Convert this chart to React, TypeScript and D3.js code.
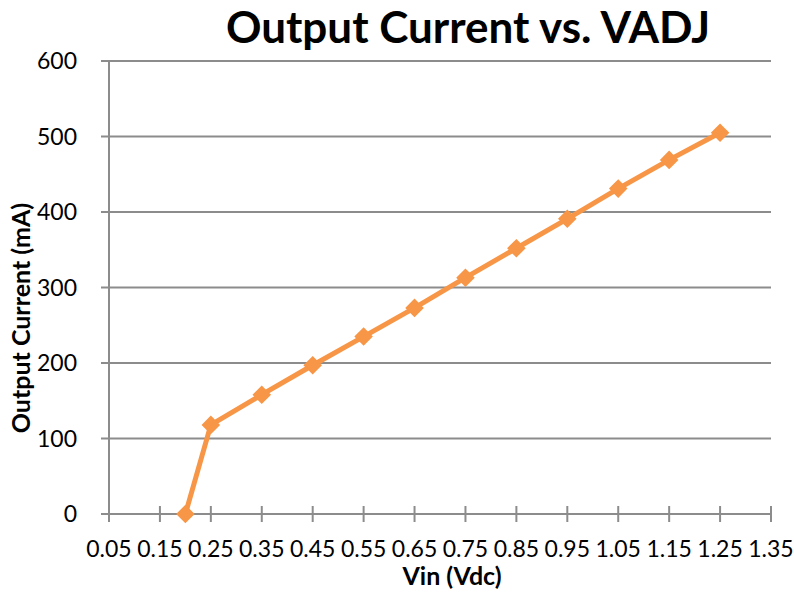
import React from 'react';
import * as d3 from 'd3';

// Vin (Vdc) vs output current (mA)
const vin = [0.2, 0.25, 0.35, 0.45, 0.55, 0.65, 0.75, 0.85, 0.95, 1.05, 1.15, 1.25];
const current = [0, 118, 158, 197, 235, 273, 313, 352, 391, 431, 469, 505];
const xTicks = [0.05, 0.15, 0.25, 0.35, 0.45, 0.55, 0.65, 0.75, 0.85, 0.95, 1.05, 1.15, 1.25, 1.35];
const yTicks = [0, 100, 200, 300, 400, 500, 600];

const W = 794;
const H = 595;
const margin = { top: 61, right: 23, bottom: 81, left: 109 };
const orange = '#F79646';
const grid = '#8c8c8c';
const font = 'Lato, "Open Sans", sans-serif';

export default function App() {
  const x = d3.scaleLinear().domain([0.05, 1.35]).range([margin.left, W - margin.right]);
  const y = d3.scaleLinear().domain([0, 600]).range([H - margin.bottom, margin.top]);
  const pts = vin.map((v, i) => [v, current[i]] as [number, number]);
  const line = d3.line<[number, number]>().x(d => x(d[0])).y(d => y(d[1]));
  const diamond = d3.symbol().type(d3.symbolDiamond2).size(220)();
  const x0 = x(0.05);
  const y0 = y(0);

  return (
    <svg width={W} height={H} style={{ position: 'absolute', left: 0, top: 0, background: '#fff' }}>
      <text x={468} y={43} textAnchor="middle" fontFamily={font} fontWeight={700} fontSize={44} fill="#000">
        Output Current vs. VADJ
      </text>

      {yTicks.map(t => (
        <g key={'y' + t}>
          <line x1={x0 - 8} x2={x(1.35)} y1={y(t)} y2={y(t)} stroke={grid} strokeWidth={2} />
          <text x={77} y={y(t) + 8} textAnchor="end" fontFamily={font} fontSize={23} fill="#000">
            {t}
          </text>
        </g>
      ))}

      <line x1={x0} x2={x0} y1={y(600)} y2={y0 + 8} stroke={grid} strokeWidth={2} />
      {xTicks.map(t => (
        <g key={'x' + t}>
          <line x1={x(t)} x2={x(t)} y1={y0 - 8} y2={y0 + 8} stroke={grid} strokeWidth={2} />
          <text x={x(t)} y={557} textAnchor="middle" fontFamily={font} fontSize={23} fill="#000">
            {t.toFixed(2)}
          </text>
        </g>
      ))}

      <path d={line(pts) ?? ''} fill="none" stroke={orange} strokeWidth={5} strokeLinejoin="round" />
      {pts.map((p, i) => (
        <path key={i} d={diamond ?? ''} transform={`translate(${x(p[0])},${y(p[1])})`} fill={orange} />
      ))}

      <text x={452} y={585} textAnchor="middle" fontFamily={font} fontWeight={700} fontSize={25} fill="#000">
        Vin (Vdc)
      </text>
      <text
        transform="translate(30,318) rotate(-90)"
        textAnchor="middle"
        fontFamily={font}
        fontWeight={700}
        fontSize={25}
        fill="#000"
      >
        Output Current (mA)
      </text>
    </svg>
  );
}
